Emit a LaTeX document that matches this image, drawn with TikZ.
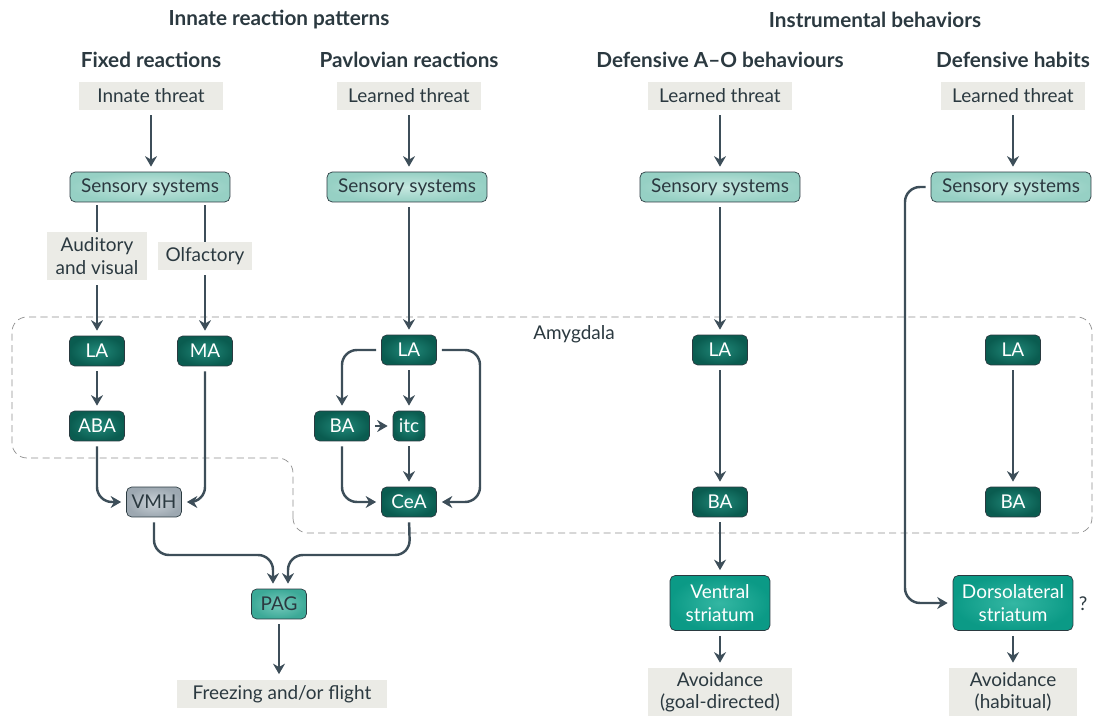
\documentclass[tikz,border=0pt]{standalone}
\usepackage{fontspec}
\setmainfont{Lato}
\usetikzlibrary{arrows.meta}
\definecolor{arrowgray}{HTML}{3D4E59}
\definecolor{textdark}{HTML}{2B3940}
\definecolor{edgedark}{HTML}{2A3A40}
\definecolor{boxgray}{HTML}{EBEBE6}
\definecolor{sensin}{HTML}{C6E8E0}
\definecolor{sensout}{HTML}{96D0C4}
\definecolor{nucin}{HTML}{21897A}
\definecolor{nucout}{HTML}{0A5C50}
\definecolor{pagin}{HTML}{78CBBD}
\definecolor{pagout}{HTML}{3CA997}
\definecolor{strin}{HTML}{34B7A3}
\definecolor{strout}{HTML}{0B9A86}
\definecolor{vmhin}{HTML}{CBD2D8}
\definecolor{vmhout}{HTML}{9DA8B1}
\definecolor{amyg}{HTML}{8E8E8E}
\begin{document}
\begin{tikzpicture}
[x=0.02cm, y=-0.02cm, >={Stealth[length=2.1mm,width=2.4mm]},
 box/.style={text=textdark, font=\fontsize{10.8}{12.8}\selectfont, align=center, inner sep=0pt},
 stim/.style={box, fill=boxgray, minimum height=0.56cm},
 sens/.style={box, draw=edgedark, thin, rounded corners=3pt, inner color=sensin, outer color=sensout, minimum width=3.2cm, minimum height=0.6cm},
 nuc/.style={box, text=white, draw=edgedark, thin, rounded corners=3pt, inner color=nucin, outer color=nucout, minimum width=1.1cm, minimum height=0.6cm},
 striat/.style={box, text=white, draw=edgedark, thin, rounded corners=3pt, inner color=strin, outer color=strout, minimum height=1.1cm},
 head/.style={text=textdark, font=\bfseries\fontsize{11.8}{14}\selectfont},
 conn/.style={->, line width=1.4pt, draw=arrowgray, rounded corners=0.3cm, shorten <=0.1cm, shorten >=0.1cm},
 plain/.style={line width=1.4pt, draw=arrowgray, shorten <=0.06cm}]
\useasboundingbox (0,0) rectangle (1093,716);

% amygdala
\draw [amyg, dash pattern=on 4pt off 2.5pt, thin, rounded corners=0.3cm]
  (293,533) -- (293,458) -- (12,458) -- (12,317) -- (1092,317) -- (1092,533) -- cycle;
\node (amygdala) at (574,334) [box] {Amygdala};

% headings
\node (innate) at (279,20) [head] {Innate reaction patterns};
\node (instr) at (875,20) [head] {Instrumental behaviors};
\node (fixed) at (151,60) [head] {Fixed reactions};
\node (pavl) at (409,60) [head] {Pavlovian reactions};
\node (ao) at (720,60) [head] {Defensive A–O behaviours};
\node (habit) at (1013,60) [head] {Defensive habits};

% fixed reactions
\node (stim1) at (151,96) [stim, minimum width=2.9cm] {Innate threat};
\node (sens1) at (150,187) [sens] {Sensory systems};
\node (audvis) at (97,256) [stim, minimum width=2.02cm, minimum height=0.96cm] {Auditory\\and visual};
\node (olf) at (205,256) [stim, minimum width=1.88cm] {Olfactory};
\node (LA1) at (97,351) [nuc] {LA};
\node (MA1) at (205,351) [nuc] {MA};
\node (ABA1) at (97,426) [nuc] {ABA};
\node (VMH) at (154,502) [nuc, text=textdark, inner color=vmhin, outer color=vmhout] {VMH};
\node (PAG) at (279,604) [nuc, text=textdark, inner color=pagin, outer color=pagout] {PAG};
\node (freeze) at (282,694) [stim, minimum width=4.2cm, minimum height=0.58cm] {Freezing and/or flight};

\draw [conn] (stim1) -- (stim1 |- sens1.north);
\draw [plain] (sens1.south -| audvis) -- (audvis);
\draw [plain] (sens1.south -| olf) -- (olf);
\draw [conn] (audvis) -- (LA1);
\draw [conn] (olf) -- (MA1);
\draw [conn] (LA1) -- (ABA1);
\draw [conn] (ABA1.south) |- (VMH.west);
\draw [conn] (MA1.south) |- (VMH.east);

% pavlovian reactions
\node (stim2) at (409,96) [stim, minimum width=2.9cm] {Learned threat};
\node (sens2) at (407,187) [sens] {Sensory systems};
\node (LA2) at (409,350) [nuc] {LA};
\node (BA2) at (342,426) [nuc] {BA};
\node (itc) at (409,426) [nuc, minimum width=0.64cm] {itc};
\node (CeA) at (409,502) [nuc] {CeA};

\draw [conn] (stim2) -- (stim2 |- sens2.north);
\draw [conn] (sens2.south -| LA2) -- (LA2);
\draw [conn] (LA2.west) -| (BA2.north);
\draw [conn] (LA2) -- (itc);
\draw [conn] (BA2) -- (itc);
\draw [conn] (itc) -- (CeA);
\draw [conn] (BA2.south) |- (CeA.west);
\draw [conn] (LA2.east) -- (480,350) |- (CeA.east);

\draw [conn] (VMH.south) -- (154,555) -| ([xshift=-0.12cm]PAG.north);
\draw [conn] (CeA.south) -- (410,555) -| ([xshift=0.18cm]PAG.north);
\draw [conn] (PAG.south) -- (PAG.south |- freeze.north);

% A-O behaviours
\node (stim3) at (720,96) [stim, minimum width=2.9cm] {Learned threat};
\node (sens3) at (720,187) [sens] {Sensory systems};
\node (LA3) at (720,350) [nuc] {LA};
\node (BA3) at (720,502) [nuc] {BA};
\node (VS) at (720,603) [striat, minimum width=2cm] {Ventral\\striatum};
\node (avoid1) at (720,692) [stim, minimum width=2.88cm, minimum height=0.96cm] {Avoidance\\(goal-directed)};

\draw [conn] (stim3) -- (sens3);
\draw [conn] (sens3) -- (LA3);
\draw [conn] (LA3) -- (BA3);
\draw [conn] (BA3) -- (VS);
\draw [conn] (VS) -- (avoid1);

% habits
\node (stim4) at (1013,96) [stim, minimum width=2.9cm] {Learned threat};
\node (sens4) at (1011,187) [sens] {Sensory systems};
\node (LA4) at (1013,350) [nuc] {LA};
\node (BA4) at (1013,502) [nuc] {BA};
\node (DLS) at (1013,603) [striat, minimum width=2.4cm] {Dorsolateral\\striatum};
\node (quest) at (1083,604) [box] {?};
\node (avoid2) at (1013,692) [stim, minimum width=2.56cm, minimum height=0.96cm] {Avoidance\\(habitual)};

\draw [conn] (stim4) -- (stim4 |- sens4.north);
\draw [conn] (LA4) -- (BA4);
\draw [conn] (sens4.west) -- (905,187) |- (DLS.west);
\draw [conn] (DLS) -- (avoid2);
\end{tikzpicture}
\end{document}
